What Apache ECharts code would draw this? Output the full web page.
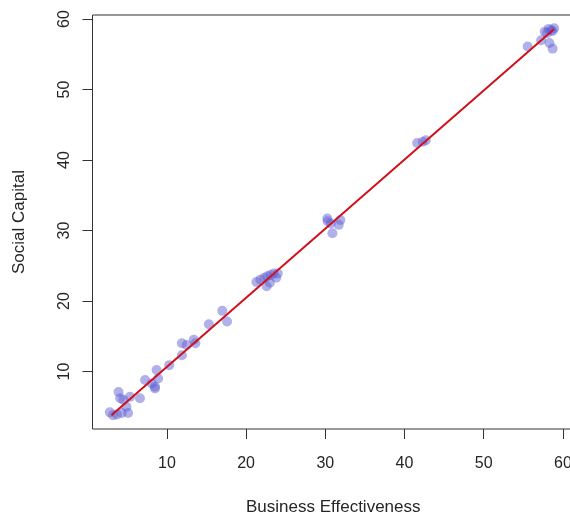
<!DOCTYPE html>
<html>
<head>
<meta charset="utf-8">
<script src="https://cdn.jsdelivr.net/npm/echarts@6/dist/echarts.min.js"></script>
<style>
  html, body { margin: 0; padding: 0; background: #fff; overflow: hidden; }
  #chart { width: 578px; height: 514px; }
</style>
</head>
<body>
<div id="chart"></div>
<script>
const businessEffectiveness = [
  2.8, 3.2, 3.7, 3.9, 4.1, 4.5, 5.35, 4.3, 5.1, 4.9, 6.6, 7.25, 8.1, 8.5, 8.7, 8.9, 8.5,
  10.3, 11.9, 11.9, 12.5, 13.4, 13.6,
  15.3, 17.0, 17.6,
  21.3, 21.8, 22.3, 22.6, 23.0, 23.1, 23.5, 23.8, 22.7, 24.0,
  30.25, 30.3, 30.7, 31.7, 31.9, 30.9,
  41.6, 42.3, 42.7,
  55.55, 57.25, 57.7, 58.0, 58.2, 58.5, 58.9, 58.7, 58.3, 58.7
]
const socialCapital = [
  4.2, 3.8, 3.9, 7.1, 6.2, 6.0, 6.4, 4.1, 4.1, 5.0, 6.2, 8.8, 8.3, 7.85, 10.2, 9.0, 7.6,
  10.9, 12.3, 14.0, 13.75, 14.5, 14.0,
  16.7, 18.6, 17.1,
  22.7, 23.0, 23.3, 22.1, 22.6, 23.7, 23.9, 23.3, 23.5, 23.9,
  31.7, 31.3, 31.0, 30.8, 31.5, 29.6,
  42.4, 42.6, 42.8,
  56.1, 57.0, 58.2, 58.0, 58.6, 58.4, 58.7, 58.3, 56.6, 55.8
]

// fitted line ends
const fitX = [3.0, 58.9]
const fitY = [3.8, 58.6]

const tickValues = [10, 20, 30, 40, 50, 60]

const chart = echarts.init(document.getElementById('chart'))

const labelFont = {
  fontFamily: 'Liberation Sans, Arial, sans-serif',
  fontSize: 16,
  color: '#262626'
}

chart.setOption({
  animation: false,
  grid: {
    left: 92.5,
    top: 15,
    right: 4,
    bottom: 85,
    containLabel: false,
    outerBoundsMode: 'none',
    show: true,
    borderColor: '#333',
    borderWidth: 1
  },
  xAxis: {
    type: 'value',
    min: 0.61,
    max: 61.4,
    name: 'Business Effectiveness',
    nameLocation: 'middle',
    nameGap: 70,
    nameTextStyle: { ...labelFont, fontSize: 17 },
    axisLine: { show: false },
    splitLine: { show: false },
    axisTick: {
      show: true,
      customValues: tickValues,
      length: 10,
      lineStyle: { color: '#333' }
    },
    axisLabel: {
      customValues: tickValues,
      margin: 27,
      ...labelFont
    }
  },
  yAxis: {
    type: 'value',
    min: 1.84,
    max: 60.57,
    name: 'Social Capital',
    nameLocation: 'middle',
    nameGap: 65,
    nameRotate: 90,
    nameTextStyle: { ...labelFont, fontSize: 17 },
    axisLine: { show: false },
    splitLine: { show: false },
    axisTick: {
      show: true,
      customValues: tickValues,
      length: 10,
      lineStyle: { color: '#333' }
    },
    axisLabel: {
      customValues: tickValues,
      rotate: 90,
      margin: 20,
      ...labelFont
    }
  },
  series: [
    {
      type: 'scatter',
      data: businessEffectiveness.map((x, i) => [x, socialCapital[i]]),
      symbol: 'circle',
      symbolSize: 10,
      itemStyle: { color: 'rgba(92, 92, 210, 0.6)' }
    },
    {
      type: 'line',
      data: fitX.map((x, i) => [x, fitY[i]]),
      showSymbol: false,
      lineStyle: { color: '#d0101a', width: 2 }
    }
  ]
})
</script>
</body>
</html>
